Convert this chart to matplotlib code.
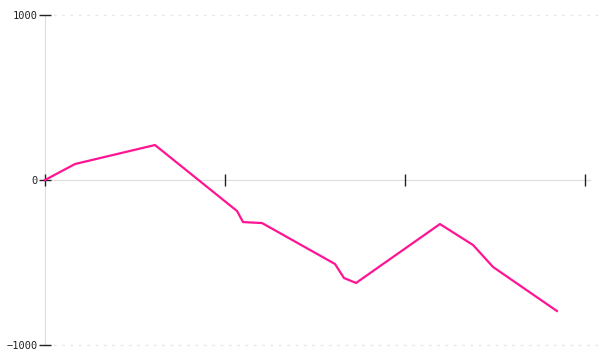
import matplotlib
matplotlib.use("Agg")
import matplotlib.pyplot as plt

x_values = [0.0, 0.167, 0.611, 1.067, 1.1, 1.206, 1.611, 1.661, 1.728, 2.194, 2.378, 2.489, 2.844]
y_values = [0, 97, 212, -188, -255, -261, -509, -594, -624, -267, -394, -527, -794]
x_ticks = [0, 1, 2, 3]
y_ticks = [-1000, 0, 1000]
y_tick_labels = ["\u22121000", "0", "1000"]

fig = plt.figure(figsize=(6, 3.6), dpi=100)
ax = fig.add_axes([45/600, 15/360, 540/600, 330/360])
ax.set_xlim(0, 3)
ax.set_ylim(-1000, 1000)
ax.set_axisbelow(False)

for s in ["top", "right"]:
    ax.spines[s].set_visible(False)
ax.spines["left"].set_color("#dddddd")
ax.spines["left"].set_zorder(0.5)
ax.spines["bottom"].set_position(("data", 0))
ax.spines["bottom"].set_color("#dddddd")
ax.spines["bottom"].set_zorder(0.5)

for yv in (1000, -1000):
    ax.plot([0, 3.085], [yv, yv], color="#e6e6e6", lw=1, ls=(0, (2, 4)), clip_on=False, zorder=1)
ax.plot([3, 3.028], [0, 0], color="#dddddd", lw=1, clip_on=False, zorder=0.5)

ax.set_xticks(x_ticks)
ax.set_xticklabels([])
ax.tick_params(axis="x", direction="inout", length=9, width=1, color="#222222")
ax.set_yticks(y_ticks)
ax.set_yticklabels(y_tick_labels, family="DejaVu Sans Mono", fontsize=7.5, color="#222222")
ax.tick_params(axis="y", direction="inout", length=8, width=1, color="#222222", pad=1)

ax.plot(x_values, y_values, color="#ff1493", lw=1.6, zorder=3, clip_on=False)

fig.savefig("out.png", dpi=100)
